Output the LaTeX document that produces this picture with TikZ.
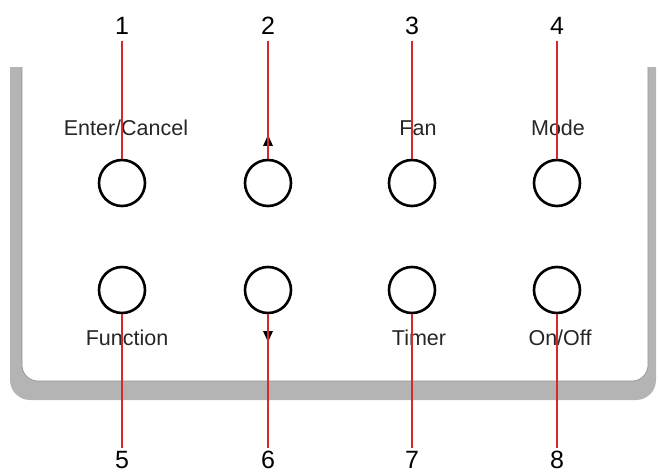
\documentclass[tikz,border=0pt]{standalone}
\usepackage{fontspec}
\setmainfont{Liberation Sans}
\definecolor{framegray}{HTML}{B4B4B4}
\definecolor{framedark}{HTML}{8C8C8C}
\definecolor{leadred}{HTML}{D42A2A}
\begin{document}
\begin{tikzpicture}[x=1pt,y=-1pt,
  btn/.style={circle,draw=black,line width=2.6pt,minimum size=46pt,inner sep=0pt},
  lbl/.style={font=\fontsize{21.5}{24}\selectfont,inner sep=0pt,text=black!85},
  num/.style={font=\fontsize{25}{28}\selectfont,inner sep=1pt},
  lead/.style={leadred,line width=2pt},
  tri/.style={fill=black,draw=none}]
\useasboundingbox (0,0) rectangle (659,473);
% frame
\begin{scope}
\clip (0,68) rectangle (659,473);
\fill[framegray,rounded corners=20pt] (10,0) rectangle (656,400);
\fill[white,rounded corners=16pt] (22,0) rectangle (648,381);
\draw[framedark,line width=0.6pt,rounded corners=16pt] (22,0) rectangle (648,381);
\end{scope}
% labels
\node[lbl] (l1) at (126,128) {Enter/Cancel};
\node[lbl] (l3) at (418,128) {Fan};
\node[lbl] (l4) at (558,128) {Mode};
\node[lbl] (l5) at (127,338) {Function};
\node[lbl] (l7) at (419,338) {Timer};
\node[lbl] (l8) at (560,338) {On/Off};
\fill[tri] (263,146) -- (273,146) -- (268,135) -- cycle;
\fill[tri] (263,331) -- (273,331) -- (268,342) -- cycle;
% buttons
\node[btn] (b1) at (122,183) {};
\node[btn] (b2) at (268,183) {};
\node[btn] (b3) at (412,183) {};
\node[btn] (b4) at (557,183) {};
\node[btn] (b5) at (122,290) {};
\node[btn] (b6) at (268,290) {};
\node[btn] (b7) at (412,290) {};
\node[btn] (b8) at (557,290) {};
% numbers
\node[num] (n1) at (122,26) {1};
\node[num] (n2) at (268,26) {2};
\node[num] (n3) at (412,26) {3};
\node[num] (n4) at (557,26) {4};
\node[num] (n5) at (122,460) {5};
\node[num] (n6) at (268,460) {6};
\node[num] (n7) at (412,460) {7};
\node[num] (n8) at (557,460) {8};
% leaders
\foreach \i in {1,2,3,4}{\draw[lead,shorten <=5pt] (n\i.south) -- (b\i.north);}
\foreach \i in {5,6,7,8}{\draw[lead,shorten <=2pt] (n\i.north) -- (b\i.south);}
\end{tikzpicture}
\end{document}
